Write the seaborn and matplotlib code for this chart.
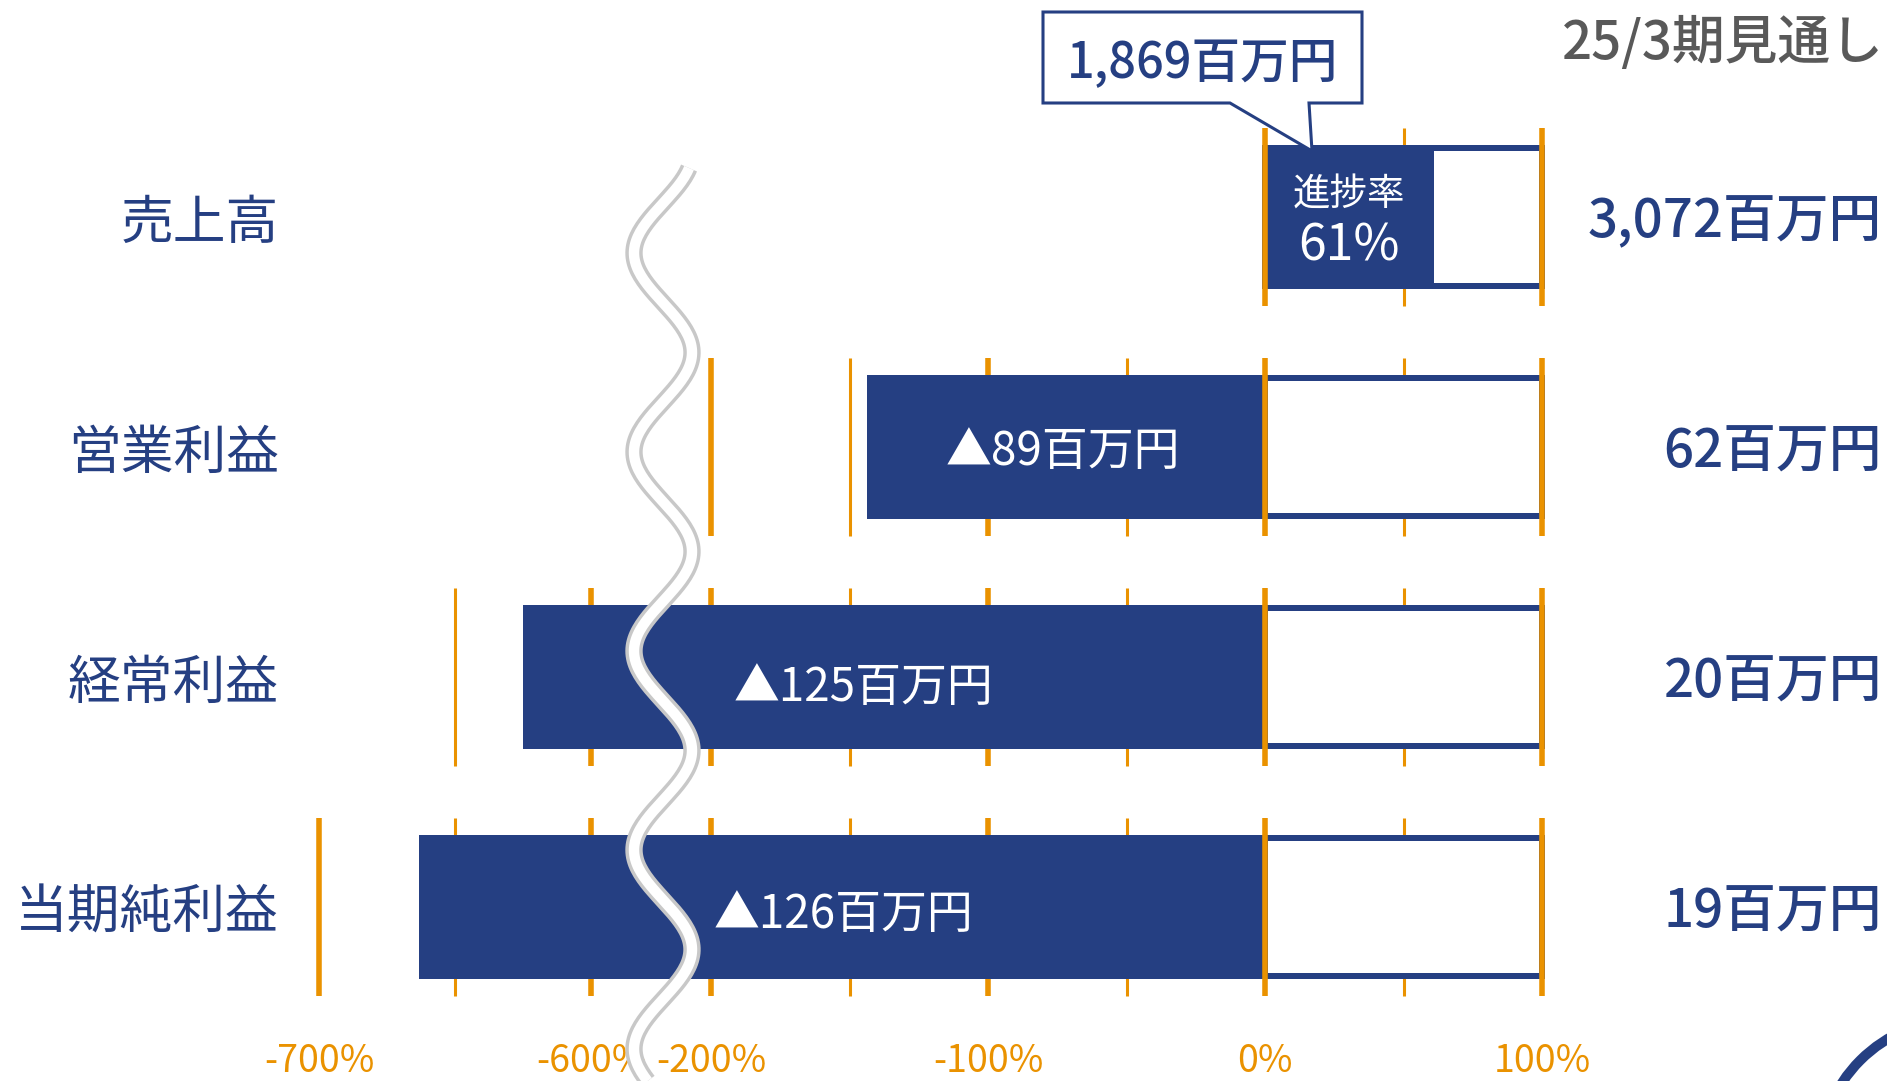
import numpy as np
import pandas as pd
import matplotlib
matplotlib.use("Agg")
import matplotlib.pyplot as plt
from matplotlib import patches, transforms
from matplotlib.lines import Line2D
import seaborn as sns

# ------------------------
# データ (百万円)
# ------------------------
items = ["売上高", "営業利益", "経常利益", "当期純利益"]
actual = [1869, -89, -125, -126]       # 実績
forecast = [3072, 62, 20, 19]          # 25/3期見通し
grid_start = [0, -200, -650, -700]     # オレンジ線の開始 (%)
left_ticks = [-700, -600]
right_ticks = [-200, -100, 0, 100]
title = "25/3期見通し"

NAVY = "#253f82"
ORANGE = "#ea9200"
GRAY = "#595959"
W, H = 1887, 1081

df = pd.DataFrame({"item": items, "actual": actual, "forecast": forecast})
df["rate"] = df["actual"] / df["forecast"] * 100
df["full"] = 100.0

sns.set_theme(style="white")
plt.rcParams["font.family"] = ["Noto Sans CJK JP", "DejaVu Sans"]

fig = plt.figure(figsize=(W / 100, H / 100), dpi=100)
# pixel coords (from top-left) -> figure
PX = transforms.Affine2D().scale(1 / W, -1 / H).translate(0, 1) + fig.transFigure

AX_TOP, AX_BOT = 0, 1020


def px_axes(x0, x1):
    return fig.add_axes([x0 / W, 1 - AX_BOT / H, (x1 - x0) / W, (AX_BOT - AX_TOP) / H])


ax_l = px_axes(290, 664)
ax_r = px_axes(664, W)
axes = [(ax_l, (-700 - 29 / 2.72, -600 + 73 / 2.72), left_ticks),
        (ax_r, (-200 - 47 / 2.77, 100 + 345 / 2.77), right_ticks)]

row_h = 0.63
box_lw = 6 * 0.72
for ax, xlim, ticks in axes:
    # 見通し (100%) の枠
    sns.barplot(data=df, x="full", y="item", orient="h", width=row_h - 6 / 230,
                color="white", saturation=1, edgecolor=NAVY, linewidth=box_lw,
                errorbar=None, ax=ax, zorder=1)
    # 実績の進捗
    sns.barplot(data=df, x="rate", y="item", orient="h", width=row_h,
                color=NAVY, saturation=1, linewidth=0, errorbar=None, ax=ax, zorder=1.5)

    # オレンジの目盛線
    for i, start in enumerate(grid_start):
        for v in range(start, 101, 50):
            major = v % 100 == 0
            ax.vlines(v, i - 0.385, i + 0.385, color=ORANGE,
                      lw=4.0 if major else 2.2,
                      zorder=3 if v in (0, 100) else 0.5)

    ax.set_xlim(*xlim)
    ax.set_ylim((AX_BOT - 217) / 230, -217 / 230)
    ax.set_xticks(ticks, labels=[f"{t}%" for t in ticks])
    ax.tick_params(axis="x", length=0, pad=16, labelsize=27, labelcolor=ORANGE)
    ax.set_xlabel("")
    ax.set_ylabel("")
    ax.patch.set_visible(False)
    for s in ax.spines.values():
        s.set_visible(False)

ax_l.tick_params(axis="y", length=0, pad=8, labelsize=38, labelcolor=NAVY)
ax_r.set_yticks([])

# バー内のラベル
bar_label_x = [None, -73, -145, -152]
bar_label_dy = [0, 0.02, 0.045, 0.035]
for i, row in df.iterrows():
    if i == 0:
        cx = row["rate"] / 2
        ax_r.text(cx, i - 0.095, "進捗率", ha="center", va="center", color="white", fontsize=27, zorder=4)
        ax_r.text(cx, i + 0.13, f"{row['rate']:.0f}%", ha="center", va="center",
                  color="white", fontsize=36, zorder=4)
    else:
        ax_r.text(bar_label_x[i], i + bar_label_dy[i], f"▲{abs(row['actual'])}百万円",
                  ha="center", va="center", color="white", fontsize=33, zorder=4)

# 右側の見通し値
right_tr = transforms.blended_transform_factory(fig.transFigure, ax_r.transData)
for i, v in enumerate(forecast):
    ax_r.text(1882 / W, i + 0.025, f"{v:,}百万円", transform=right_tr, ha="right", va="center",
              color=NAVY, fontsize=38, fontweight="medium", clip_on=False)

fig.text(1884 / W, 1 - 44 / H, title, ha="right", va="center", color=GRAY,
         fontsize=38, fontweight="medium")

# 吹き出し (実績売上高)
callout = patches.Polygon([(1043, 12), (1362, 12), (1362, 103), (1309, 103), (1312, 151),
                           (1230, 103), (1043, 103)], closed=True, transform=PX,
                          facecolor="white", edgecolor=NAVY, lw=2.2, zorder=6)
fig.add_artist(callout)
fig.text(1203 / W, 1 - 64 / H, f"{actual[0]:,}百万円", ha="center", va="center",
         color=NAVY, fontsize=35, fontweight="medium", zorder=7)

# 波線 (省略記号)
wy = np.linspace(168, H, 400)
wx = 663 - 29 * np.cos(2 * np.pi * (wy - 253) / 199)
fig.add_artist(Line2D(wx, wy, transform=PX, color="#c8c8c8", lw=12.5, zorder=8,
                      solid_capstyle="butt"))
fig.add_artist(Line2D(wx, wy, transform=PX, color="white", lw=7.5, zorder=9,
                      solid_capstyle="butt"))

# 右下の円
fig.add_artist(patches.Circle((1960, 1160), 141, transform=PX, fill=False,
                              edgecolor=NAVY, lw=7.2, zorder=5))

fig.savefig("out.png", dpi=100, facecolor="white")
